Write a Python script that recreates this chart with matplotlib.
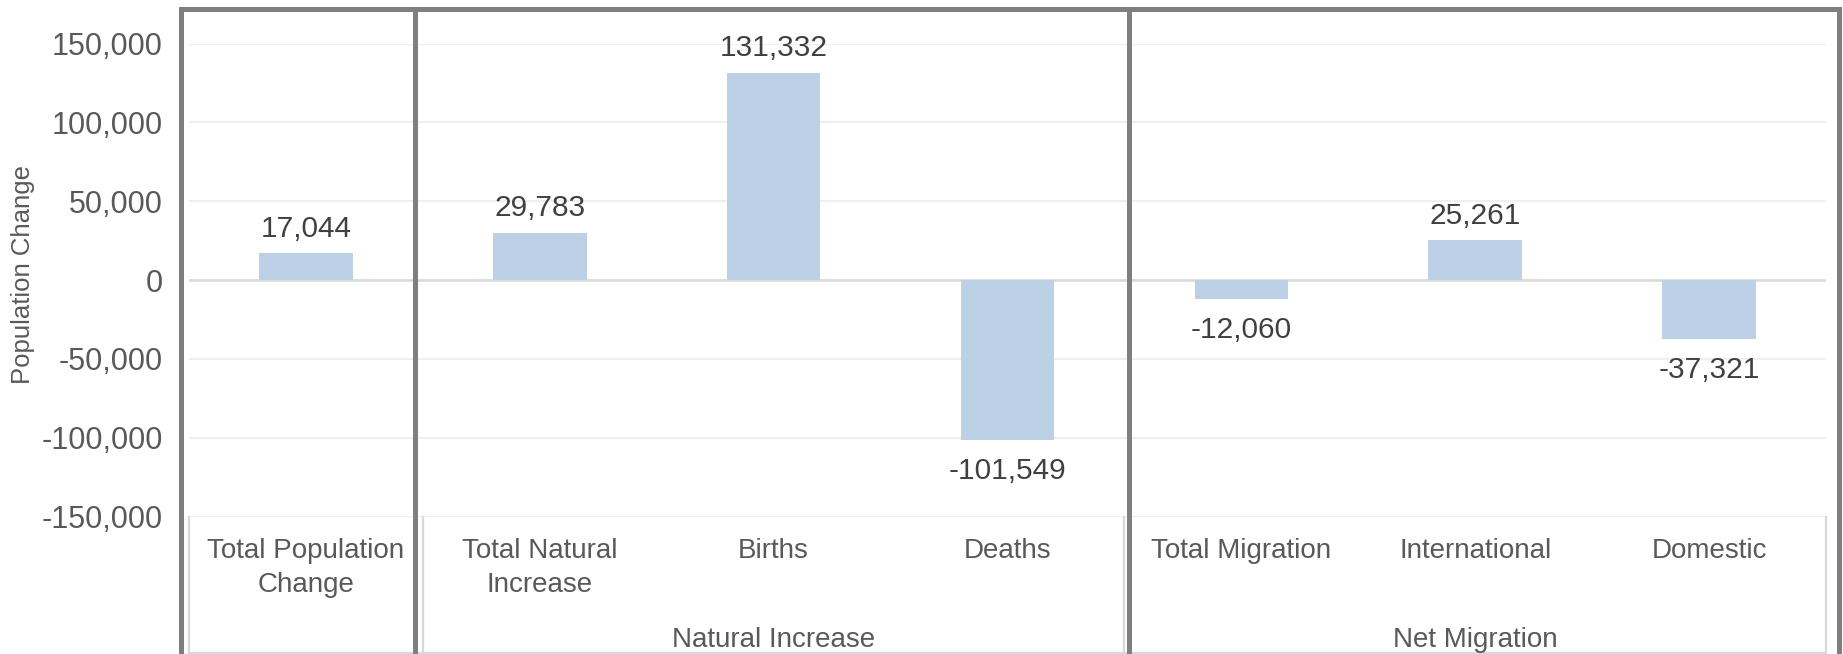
import numpy as np
import matplotlib.pyplot as plt
from matplotlib.lines import Line2D
from matplotlib import transforms
from matplotlib.ticker import FuncFormatter

plt.rcParams['font.family'] = ['Liberation Sans', 'DejaVu Sans']

# components of population change
categories = ['Total Population\nChange', 'Total Natural\nIncrease', 'Births', 'Deaths',
              'Total Migration', 'International', 'Domestic']
values = [17044, 29783, 131332, -101549, -12060, 25261, -37321]
groups = ['Natural Increase', 'Net Migration']
group_centers = [2, 5]

W, H = 1843, 654
fig = plt.figure(figsize=(W / 100, H / 100), dpi=100)
ax = fig.add_axes([189 / W, (H - 516.5) / H, 1637 / W, 472.8 / H])

x = np.arange(len(categories))
ax.bar(x, values, width=0.4, color='#bdd1e6', zorder=3)
ax.set_xlim(-0.5, len(categories) - 0.5)
ax.set_ylim(-150000, 150000)
ax.set_yticks(np.arange(-150000, 150001, 50000))
ax.yaxis.set_major_formatter(FuncFormatter(lambda v, p: f'{v:,.0f}'))
ax.tick_params(axis='y', length=0, labelsize=22, labelcolor='#595959', pad=19)
ax.set_xticks([])
for s in ax.spines.values():
    s.set_visible(False)
ax.grid(axis='y', color='#efefef', lw=1.6, zorder=0)
ax.axhline(0, color='#d9d9d9', lw=1.8, zorder=2)
fig.text(23 / W, (H - 274) / H, 'Population Change', rotation=90, ha='center',
         va='center', fontsize=18.5, color='#595959')

# value labels
for xi, v in zip(x, values):
    off = 12 if v >= 0 else -28
    ax.annotate(f'{v:,}', (xi, v), xytext=(0, off), textcoords='offset points',
                ha='center', va='baseline', fontsize=21.5, color='#404040')

# category axis labels below the plot
tr = transforms.blended_transform_factory(ax.transData, fig.transFigure)
for xi, lab in zip(x, categories):
    ax.text(xi, (H - 538) / H, lab, transform=tr, ha='center', va='top',
            fontsize=20, color='#595959', linespacing=1.4)
for gx, g in zip(group_centers, groups):
    ax.text(gx, (H - 640) / H, g, transform=tr, ha='center', va='center',
            fontsize=20, color='#595959')

# thin separators between category groups
for bx in [-0.5, 0.5, 3.5, 6.5]:
    ax.add_line(Line2D([bx, bx], [(H - 516.5) / H, 0], transform=tr,
                       color='#d9d9d9', lw=1.6, clip_on=False))
ax.add_line(Line2D([-0.5, 6.5], [1.5 / H, 1.5 / H], transform=tr,
                   color='#d9d9d9', lw=1.6, clip_on=False))

# dark frames around each group
frame = dict(color='#7f7f7f', lw=3.6, solid_capstyle='projecting')
fig.add_artist(Line2D([181 / W, 1839 / W], [(H - 8.5) / H] * 2, **frame))
for px in [181, 414.5, 1129, 1839]:
    fig.add_artist(Line2D([px / W] * 2, [(H - 8.5) / H, -0.01], **frame))

fig.savefig('out.png', dpi=100)
